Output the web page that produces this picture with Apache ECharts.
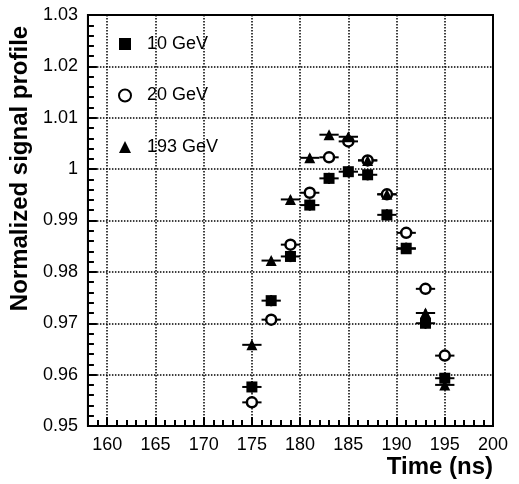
<!DOCTYPE html>
<html>
<head>
<meta charset="utf-8">
<script src="https://cdn.jsdelivr.net/npm/echarts@6/dist/echarts.min.js"></script>
<style>
  html, body { margin: 0; padding: 0; background: #fff; }
  #chart { width: 519px; height: 484px; }
</style>
</head>
<body>
<div id="chart"></div>
<script>
// time samples (ns)
const times = [175, 177, 179, 181, 183, 185, 187, 189, 191, 193, 195];
// normalized signal profile per beam energy
const gev10 = [0.9576, 0.9744, 0.9830, 0.9930, 0.9982, 0.9995, 0.9989, 0.9911, 0.9846, 0.9700, 0.9593];
const gev20 = [0.9546, 0.9707, 0.9853, 0.9954, 1.0023, 1.0054, 1.0017, 0.9951, 0.9876, 0.9767, 0.9637];
const gev193 = [0.9658, 0.9822, 0.9941, 1.0022, 1.0067, 1.0063, 1.0017, 0.9951, 0.9845, 0.9720, 0.9580];
const seriesNames = ['10 GeV', '20 GeV', '193 GeV'];
const xLabels = [160, 165, 170, 175, 180, 185, 190, 195, 200];
const xErr = 1;
const yErr = [0.0011, 0.0007, 0.0007];

const font = 'Liberation Sans, Arial, Helvetica, sans-serif';
const chart = echarts.init(document.getElementById('chart'));

const pts = (vals) => times.map((t, i) => [t, vals[i]]);

function errorBars(vals, ey) {
  return {
    type: 'custom',
    silent: true,
    z: 1,
    data: pts(vals),
    renderItem(params, api) {
      const t = api.value(0), v = api.value(1);
      const l = api.coord([t - xErr, v]), r = api.coord([t + xErr, v]);
      const b = api.coord([t, v - ey]), u = api.coord([t, v + ey]);
      const style = { stroke: '#000', lineWidth: 2 };
      return {
        type: 'group',
        children: [
          { type: 'line', shape: { x1: l[0], y1: l[1], x2: r[0], y2: r[1] }, style },
          { type: 'line', shape: { x1: b[0], y1: b[1], x2: u[0], y2: u[1] }, style },
        ],
      };
    },
  };
}

chart.setOption({
  backgroundColor: '#fff',
  animation: false,
  grid: { left: 84, right: 26, top: 15, bottom: 58, show: true, borderColor: '#000', borderWidth: 2, backgroundColor: 'transparent' },
  legend: {
    orient: 'vertical',
    left: 113,
    top: 30,
    itemWidth: 12,
    itemHeight: 12,
    itemGap: 33.5,
    data: seriesNames,
    textStyle: { fontFamily: font, fontSize: 18, color: '#000', padding: [0, 0, 0, 11] },
  },
  xAxis: [
    {
      type: 'value', min: 158, max: 200,
      name: 'Time (ns)', nameLocation: 'end', nameGap: 0,
      nameTextStyle: { fontFamily: font, fontSize: 24, fontWeight: 'bold', color: '#000', align: 'right', verticalAlign: 'top', padding: [29, 0, 0, 0] },
      axisLine: { show: true, onZero: false, lineStyle: { color: '#000', width: 2 } },
      axisTick: { inside: true, length: 9, customValues: xLabels, lineStyle: { color: '#000', width: 2 } },
      axisLabel: { customValues: xLabels, fontFamily: font, fontSize: 18, color: '#000', margin: 10 },
      splitLine: { show: true, lineStyle: { color: '#000', type: 'dotted', width: 1.5 } },
    },
    {
      type: 'value', min: 158, max: 200, interval: 1, position: 'bottom',
      axisLine: { show: false },
      axisTick: { inside: true, length: 6, lineStyle: { color: '#000', width: 2 } },
      axisLabel: { show: false },
      splitLine: { show: false },
    },
  ],
  yAxis: {
    type: 'value', min: 0.95, max: 1.03, interval: 0.01,
    name: 'Normalized signal profile', nameLocation: 'middle', nameGap: 49, nameRotate: 90,
    nameTextStyle: { fontFamily: font, fontSize: 24, fontWeight: 'bold', color: '#000', padding: [0, 0, 0, 104] },
    axisLine: { show: true, lineStyle: { color: '#000', width: 2 } },
    axisTick: { inside: true, length: 9, lineStyle: { color: '#000', width: 2 } },
    minorTick: { show: true, splitNumber: 5, length: 6, lineStyle: { color: '#000', width: 2 } },
    axisLabel: { fontFamily: font, fontSize: 18, color: '#000', margin: 10, formatter: (v) => String(+v.toFixed(2)) },
    splitLine: { show: true, lineStyle: { color: '#000', type: 'dotted', width: 1.5 } },
  },
  series: [
    errorBars(gev10, yErr[0]),
    errorBars(gev20, yErr[1]),
    errorBars(gev193, yErr[2]),
    { name: seriesNames[0], type: 'scatter', z: 3, symbol: 'rect', symbolSize: 11, itemStyle: { color: '#000', opacity: 1 }, data: pts(gev10) },
    { name: seriesNames[1], type: 'scatter', z: 4, symbol: 'circle', symbolSize: 10, itemStyle: { color: '#fff', borderColor: '#000', borderWidth: 2.5, opacity: 1 }, data: pts(gev20) },
    { name: seriesNames[2], type: 'scatter', z: 5, symbol: 'triangle', symbolSize: 11, itemStyle: { color: '#000', opacity: 1 }, data: pts(gev193) },
  ],
});
</script>
</body>
</html>
